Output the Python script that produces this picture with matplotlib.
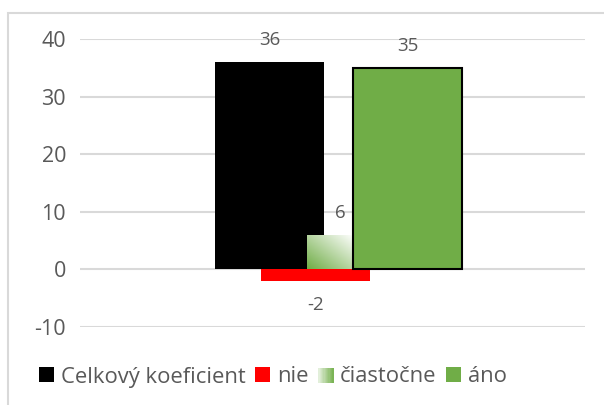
import numpy as np
import matplotlib
matplotlib.use("Agg")
import matplotlib.pyplot as plt
from matplotlib.patches import Rectangle
from matplotlib.legend_handler import HandlerBase
from matplotlib.colors import to_rgb

series = ["Celkový koeficient", "nie", "čiastočne", "áno"]
values = [36, -2, 6, 35]
colors = ["#000000", "#ff0000", "#70ad47", "#70ad47"]
yticks = [-10, 0, 10, 20, 30, 40]

plt.rcParams["font.family"] = ["Open Sans", "DejaVu Sans"]
plt.rcParams["axes.unicode_minus"] = False
txt = "#595959"
grid = "#d9d9d9"

W, H = 604, 405
fig = plt.figure(figsize=(W / 100, H / 100), dpi=100)

# chart area frame (left/top edges visible, rest cut off)
fig.add_artist(Rectangle((8 / W, -0.1), 1.2, 1.1 - 13 / H, transform=fig.transFigure,
                         fill=False, edgecolor=grid, linewidth=1.5))

ax = fig.add_axes([80 / W, (H - 327) / H, 505 / W, 288 / H])
ax.set_yticks(yticks)
ax.set_xticks([])
for s in ax.spines.values():
    s.set_visible(False)
ax.yaxis.grid(True, color=grid, linewidth=1.5)
ax.set_axisbelow(True)
ax.tick_params(axis="y", length=0, pad=10, labelsize=15.5, labelcolor=txt)

width = 0.216
step = 0.091
centre = 0.512
xs = [centre + (i - 1.5) * step for i in range(len(series))]


def gradient(n=60):
    u = np.linspace(0, 1, n)[None, :]
    v = np.linspace(1, 0, n)[:, None]
    t = np.clip(1.2 * u + 0.5 * v, 0, 1)
    g = np.array(to_rgb(colors[2]))
    return g[None, None, :] * (1 - t[..., None]) + t[..., None]


for i, (x, val) in enumerate(zip(xs, values)):
    if i == 2:
        b = ax.bar(x, val, width, color="none", zorder=2 + i)[0]
        im = ax.imshow(gradient(), extent=(x - width / 2, x + width / 2, 0, val),
                       aspect="auto", zorder=2 + i, interpolation="bilinear")
        im.set_clip_path(b)
    elif i == 3:
        ax.bar(x, val, width, color=colors[i], edgecolor="black", linewidth=1.5, zorder=2 + i)
    else:
        ax.bar(x, val, width, color=colors[i], zorder=2 + i)
ax.set_xlim(0, 1)
ax.set_ylim(-10, 40)

label_dx = [0, 0, -15.5, 0]
for x, val, dx in zip(xs, values, label_dx):
    dy = 16 if val >= 0 else -17
    ax.annotate(str(val), (x, val), xytext=(dx, dy), textcoords="offset points",
                ha="center", va="center", fontsize=13.5, color=txt, zorder=10)


class GradHandler(HandlerBase):
    def create_artists(self, legend, orig, xd, yd, w, h, fontsize, trans):
        arts = []
        n = 12
        g = np.array(to_rgb(colors[2]))
        for k in range(n):
            t = 1 - k / (n - 1) * 0.9
            c = g * (1 - t * 0.8) + t * 0.8
            arts.append(Rectangle((xd + w * k / n, yd), w / n + 0.3, h, facecolor=c,
                                  edgecolor="none", transform=trans))
        return arts


handles = [Rectangle((0, 0), 1, 1, facecolor=c) for c in colors]
ax.legend(handles, series, loc="center", bbox_to_anchor=(273 / W, (H - 377) / H),
          bbox_transform=fig.transFigure, ncol=4, frameon=False, fontsize=15.8,
          labelcolor=txt, handlelength=0.68, handleheight=0.68, handletextpad=0.3,
          columnspacing=0.45, borderaxespad=0, borderpad=0,
          handler_map={handles[2]: GradHandler()})

fig.savefig("out.png", dpi=100)
